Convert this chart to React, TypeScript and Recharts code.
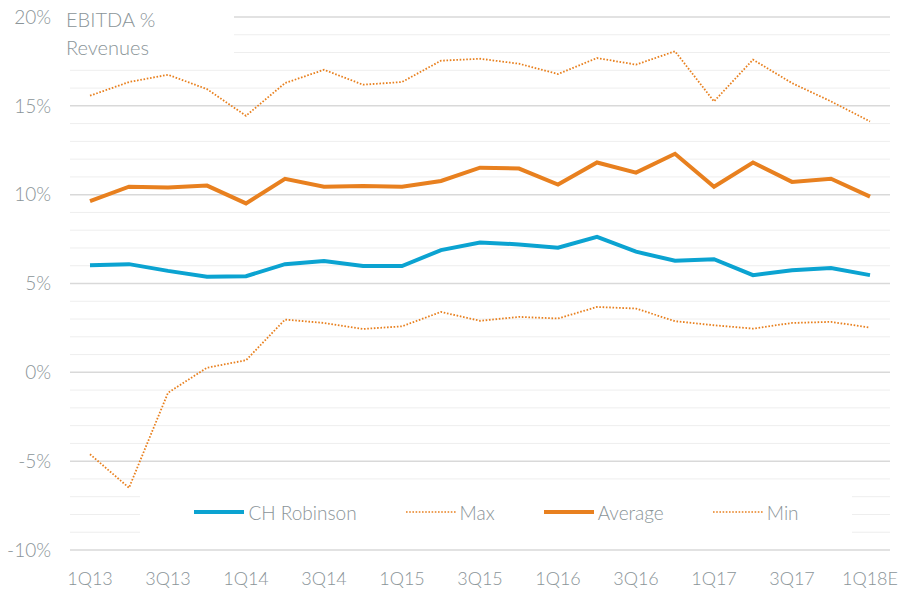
import { LineChart, Line, XAxis, YAxis, ReferenceLine } from 'recharts'

const quarters = [
  '1Q13', '2Q13', '3Q13', '4Q13', '1Q14', '2Q14', '3Q14', '4Q14', '1Q15', '2Q15', '3Q15',
  '4Q15', '1Q16', '2Q16', '3Q16', '4Q16', '1Q17', '2Q17', '3Q17', '4Q17', '1Q18E'
]
const chRobinson = [6.03, 6.09, 5.71, 5.38, 5.41, 6.09, 6.26, 5.98, 5.98, 6.88, 7.31, 7.2, 7.01, 7.63, 6.79, 6.28, 6.37, 5.47, 5.75, 5.87, 5.47]
const maxValues = [15.57, 16.34, 16.75, 15.94, 14.44, 16.28, 17.03, 16.19, 16.34, 17.54, 17.65, 17.37, 16.79, 17.69, 17.32, 18.07, 15.25, 17.6, 16.28, 15.25, 14.12]
const averageValues = [9.64, 10.45, 10.4, 10.51, 9.51, 10.89, 10.45, 10.49, 10.45, 10.77, 11.52, 11.47, 10.57, 11.81, 11.24, 12.3, 10.45, 11.81, 10.72, 10.9, 9.89]
const minValues = [-4.61, -6.5, -1.15, 0.26, 0.68, 2.97, 2.78, 2.44, 2.59, 3.4, 2.9, 3.12, 3.03, 3.68, 3.59, 2.88, 2.65, 2.46, 2.78, 2.84, 2.52]

const yTicks = [-10, -5, 0, 5, 10, 15, 20]
const xTicks = ['1Q13', '3Q13', '1Q14', '3Q14', '1Q15', '3Q15', '1Q16', '3Q16', '1Q17', '3Q17', '1Q18E']
const gridValues = [-10, -9, -8, -7, -6, -5, -4, -3, -2, -1, 0, 1, 2, 3, 4, 5, 6, 7, 8, 9, 10, 11, 12, 13, 14, 15, 16, 17, 18, 19, 20]

const data = quarters.map((q, i) => ({
  quarter: q,
  ch: chRobinson[i],
  max: maxValues[i],
  avg: averageValues[i],
  min: minValues[i],
}))

const BLUE = '#0BA3D1'
const ORANGE = '#E8801F'
const TEXT = '#8A9498'
const FONT = 'Lato, "Open Sans", sans-serif'

const legendItems = [
  { label: 'CH Robinson', color: BLUE, dotted: false },
  { label: 'Max', color: ORANGE, dotted: true },
  { label: 'Average', color: ORANGE, dotted: false },
  { label: 'Min', color: ORANGE, dotted: true },
]

// legend sits inside the plot on a white box that hides the gridlines
function ChartLegend() {
  return (
    <div style={{
      position: 'absolute', left: 140, top: 486, width: 712, height: 52,
      display: 'flex', justifyContent: 'center', gap: 48, background: '#fff',
      alignItems: 'center', fontFamily: FONT, fontSize: 19, fontWeight: 300, color: TEXT,
    }}>
      {legendItems.map(item => (
        <div key={item.label} style={{ display: 'flex', alignItems: 'center' }}>
          <svg width={52} height={10} style={{ marginRight: 3 }}>
            <line
              x1={1} y1={5} x2={51} y2={5}
              stroke={item.color}
              strokeWidth={item.dotted ? 1.6 : 4}
              strokeDasharray={item.dotted ? '1.6 1.6' : undefined}
            />
          </svg>
          <span>{item.label}</span>
        </div>
      ))}
    </div>
  )
}

export default function App() {
  return (
    <div style={{ position: 'absolute', left: 0, top: 0, width: 910, height: 596, background: '#fff' }}>
      <LineChart width={910} height={596} data={data} margin={{ top: 17, right: 20, bottom: 0, left: 0 }}>
        {gridValues.map(v => (
          <ReferenceLine
            key={v}
            y={v}
            stroke={v % 5 === 0 ? '#D9D9D9' : '#EEEEEE'}
            strokeWidth={v % 5 === 0 ? 1.5 : 1}
          />
        ))}
        <XAxis
          dataKey="quarter"
          ticks={xTicks}
          interval={0}
          axisLine={false}
          tickLine={false}
          height={46}
          tickMargin={16}
          padding={{ left: 20, right: 20 }}
          tick={{ fill: TEXT, fontSize: 18, fontFamily: FONT, fontWeight: 300 }}
        />
        <YAxis
          domain={[-10, 20]}
          ticks={yTicks}
          interval={0}
          axisLine={false}
          tickLine={false}
          width={70}
          tickMargin={13}
          tickFormatter={(v: number) => `${v}%`}
          tick={{ fill: TEXT, fontSize: 19, fontFamily: FONT, fontWeight: 300 }}
        />
        <Line dataKey="min" name="Min" stroke={ORANGE} strokeWidth={1.8} strokeDasharray="1.6 1.7" dot={false} isAnimationActive={false} />
        <Line dataKey="max" name="Max" stroke={ORANGE} strokeWidth={1.8} strokeDasharray="1.6 1.7" dot={false} isAnimationActive={false} />
        <Line dataKey="avg" name="Average" stroke={ORANGE} strokeWidth={4} dot={false} isAnimationActive={false} />
        <Line dataKey="ch" name="CH Robinson" stroke={BLUE} strokeWidth={4} dot={false} isAnimationActive={false} />
      </LineChart>
      <ChartLegend />
      <div style={{
        position: 'absolute', left: 66, top: 4, width: 168, height: 60, background: '#fff',
        fontFamily: FONT, fontSize: 20, fontWeight: 300, color: TEXT, lineHeight: '28px',
        paddingTop: 1, boxSizing: 'border-box',
      }}>
        <div>EBITDA %</div>
        <div>Revenues</div>
      </div>
    </div>
  )
}
